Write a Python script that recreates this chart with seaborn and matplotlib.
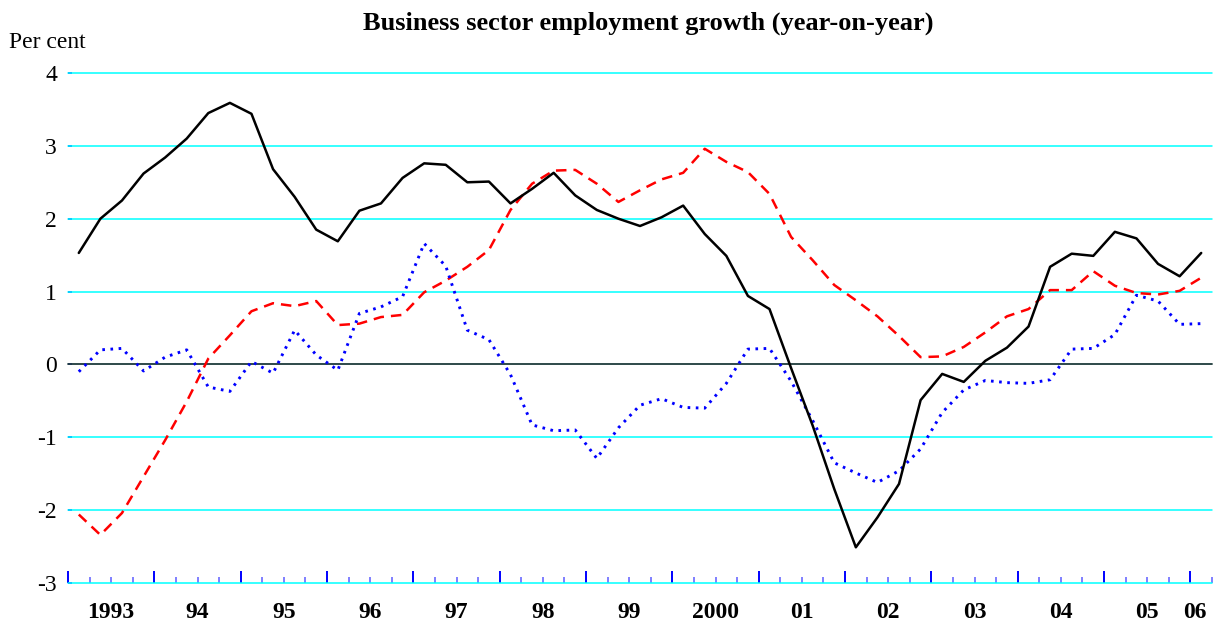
import matplotlib
matplotlib.use("Agg")
import matplotlib.pyplot as plt
import seaborn as sns
import pandas as pd
import numpy as np

# quarterly data, 1993 Q1 .. 2006 Q1
years = ['1993', '94', '95', '96', '97', '98', '99', '2000', '01', '02', '03', '04', '05', '06']

black_line = [1.53, 2.00, 2.25, 2.62, 2.84, 3.10, 3.45, 3.59, 3.44, 2.68, 2.30, 1.85, 1.69,
              2.11, 2.21, 2.56, 2.76, 2.74, 2.50, 2.51, 2.21, 2.41, 2.63, 2.32, 2.12, 2.00,
              1.90, 2.02, 2.18, 1.79, 1.49, 0.94, 0.76, -0.05, -0.84, -1.71, -2.51, -2.10,
              -1.64, -0.49, -0.13, -0.24, 0.05, 0.23, 0.52, 1.34, 1.52, 1.49, 1.82, 1.73,
              1.38, 1.21, 1.53]
red_line = [-2.06, -2.34, -2.04, -1.54, -1.04, -0.51, 0.08, 0.40, 0.73, 0.84, 0.80, 0.87, 0.54,
            0.56, 0.65, 0.68, 0.99, 1.15, 1.34, 1.57, 2.12, 2.48, 2.66, 2.67, 2.48, 2.23,
            2.39, 2.54, 2.63, 2.96, 2.78, 2.64, 2.34, 1.75, 1.43, 1.09, 0.88, 0.66, 0.39,
            0.10, 0.11, 0.24, 0.44, 0.66, 0.76, 1.02, 1.02, 1.28, 1.08, 0.98, 0.96, 1.01, 1.19]
blue_line = [-0.10, 0.20, 0.22, -0.09, 0.10, 0.20, -0.31, -0.37, 0.04, -0.12, 0.47, 0.13, -0.08,
             0.70, 0.79, 0.93, 1.66, 1.35, 0.47, 0.34, -0.14, -0.83, -0.91, -0.90, -1.29, -0.87,
             -0.56, -0.47, -0.59, -0.60, -0.26, 0.21, 0.22, -0.23, -0.77, -1.35, -1.49, -1.62,
             -1.46, -1.16, -0.66, -0.35, -0.22, -0.25, -0.26, -0.21, 0.21, 0.22, 0.41, 0.95,
             0.87, 0.55, 0.56]
y_ticks = [-3, -2, -1, 0, 1, 2, 3, 4]

n = len(black_line)
df = pd.DataFrame({'q': np.arange(n) + 0.5, 'black': black_line, 'red': red_line, 'blue': blue_line})

sns.set_style("white")
plt.rcParams['font.family'] = ['Liberation Serif', 'DejaVu Serif']
plt.rcParams['text.color'] = 'black'

fig = plt.figure(figsize=(12.16, 6.26), dpi=100)
ax = fig.add_axes([68/1216, 1 - 583/626, (1212-68)/1216, (583-73)/626])

# grid lines
for v in y_ticks:
    if v == 0:
        ax.axhline(v, color='#1e3a3a', lw=1.3, clip_on=False, zorder=1)
    else:
        ax.axhline(v, color='#00ffff', lw=1.1, clip_on=False, zorder=1)

sns.lineplot(data=df, x='q', y='black', ax=ax, color='black', lw=1.8, zorder=4)
sns.lineplot(data=df, x='q', y='red', ax=ax, color='red', lw=1.8, linestyle=(0, (4.2, 2.8)), zorder=3)
sns.lineplot(data=df, x='q', y='blue', ax=ax, color='blue', lw=2.1, linestyle=(0, (0.9, 1.9)), zorder=3)

ax.set_xlim(0, n)
ax.set_ylim(-3, 4)
ax.set_xlabel('')
ax.set_ylabel('')
for s in ax.spines.values():
    s.set_visible(False)

ax.set_yticks(y_ticks)
ax.set_yticklabels([str(v) for v in y_ticks], fontsize=17)
ax.tick_params(axis='y', direction='in', length=3, width=1.2, color='blue', labelcolor='black',
               pad=8, left=True)

ax.set_xticks(np.arange(0, n, 4))
ax.set_xticks(np.arange(0, n + 1, 1), minor=True)
ax.set_xticklabels([])
ax.tick_params(axis='x', which='major', direction='in', length=8.5, width=1.4, color='blue', bottom=True)
ax.tick_params(axis='x', which='minor', direction='in', length=4.3, width=1.2, color='#6a6aff', bottom=True)

# year labels centred under each year
trans = ax.get_xaxis_transform()
for i, yr in enumerate(years):
    start = i * 4
    end = min(start + 4, n)
    cx = (start + end) / 2
    if yr == '06':
        cx -= 0.3
    ax.text(cx, -30/510, yr, transform=trans, ha='center', va='center',
            fontsize=17, fontweight='bold', color='black')

fig.text(648/1216, 1 - 23/626, 'Business sector employment growth (year-on-year)',
         ha='center', va='center', fontsize=19, fontweight='bold', color='black')
fig.text(9/1216, 1 - 42/626, 'Per cent', ha='left', va='center', fontsize=17, color='black')

fig.savefig('out.png', dpi=100)
